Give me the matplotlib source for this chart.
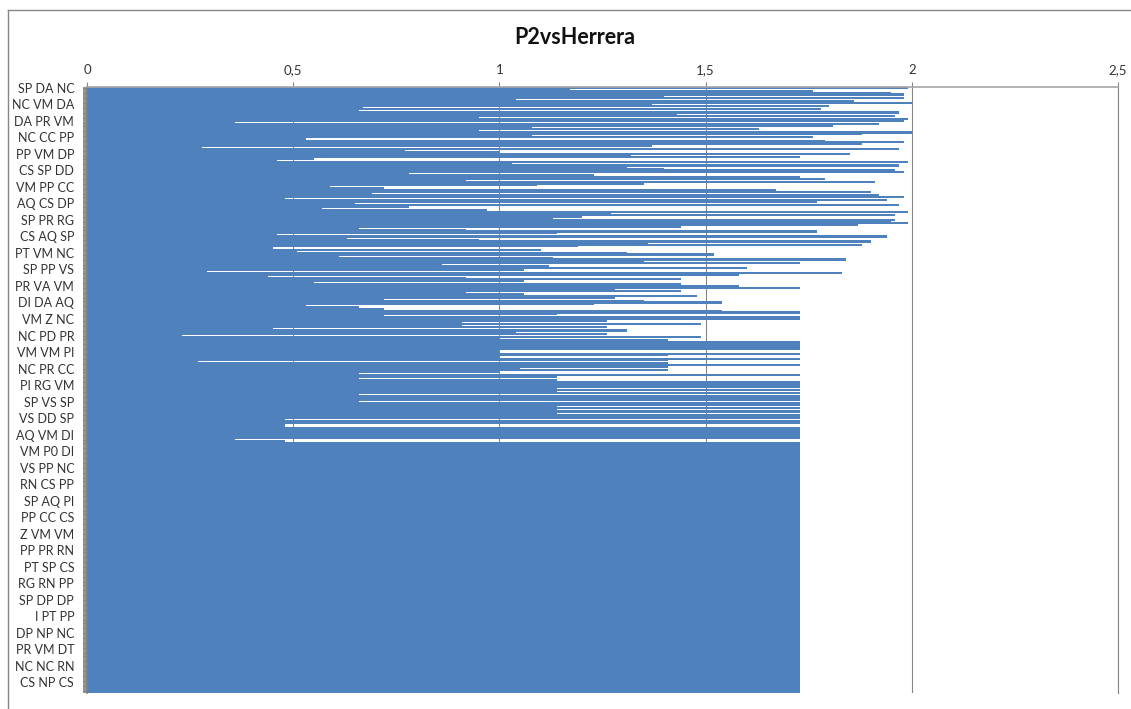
import matplotlib
matplotlib.use("Agg")
import matplotlib.pyplot as plt
from matplotlib.lines import Line2D
from matplotlib.ticker import FuncFormatter, FixedLocator
import numpy as np

plt.rcParams['font.family'] = ['Lato', 'DejaVu Sans']

# Every 10th category carries a visible label
category_labels = [
    "SP DA NC", "NC VM DA", "DA PR VM", "NC CC PP", "PP VM DP", "CS SP DD",
    "VM PP CC", "AQ CS DP", "SP PR RG", "CS AQ SP", "PT VM NC", "SP PP VS",
    "PR VA VM", "DI DA AQ", "VM Z NC", "NC PD PR", "VM VM PI", "NC PR CC",
    "PI RG VM", "SP VS SP", "VS DD SP", "AQ VM DI", "VM P0 DI", "VS PP NC",
    "RN CS PP", "SP AQ PI", "PP CC CS", "Z VM VM", "PP PR RN", "PT SP CS",
    "RG RN PP", "SP DP DP", "I PT PP", "DP NP NC", "PR VM DT", "NC NC RN",
    "CS NP CS",
]
label_step = 10

# Distances, top group (categories 0-99)
values_top = [
    1.99, 1.17, 1.76, 1.95, 1.98, 1.40, 1.98, 1.04, 1.86, 2.00,
    1.37, 1.80, 0.67, 1.78, 0.66, 1.97, 1.43, 1.96, 0.95, 1.99,
    1.98, 0.36, 1.92, 1.81, 1.08, 1.63, 0.95, 2.00, 1.88, 1.08,
    1.76, 0.53, 1.79, 1.98, 1.88, 1.37, 0.28, 1.97, 0.77, 1.00,
    1.85, 1.32, 1.73, 0.55, 0.46, 1.99, 1.03, 1.97, 1.31, 1.40,
    1.96, 1.98, 0.78, 1.23, 1.73, 1.79, 0.92, 1.91, 1.35, 1.09,
    0.59, 0.72, 1.67, 1.90, 0.69, 1.92, 1.98, 0.48, 1.94, 1.77,
    0.65, 1.97, 0.78, 0.57, 0.97, 1.99, 1.27, 1.96, 1.20, 1.13,
    1.96, 1.95, 1.99, 1.87, 1.44, 0.66, 0.92, 1.77, 1.14, 0.46,
    1.94, 0.63, 0.95, 1.90, 1.36, 1.88, 1.19, 0.45, 1.10, 0.51,
]

# Distances, middle group (categories 100-219)
values_middle = [
    1.31, 1.52, 0.61, 1.13, 1.84, 1.35, 1.73, 0.86, 1.12, 1.60,
    1.06, 0.29, 1.83, 1.58, 0.44, 0.92, 1.44, 1.06, 0.55, 1.44,
    1.58, 1.73, 1.28, 1.44, 0.92, 1.06, 1.48, 1.28, 0.72, 1.35,
    1.54, 1.23, 0.53, 0.66, 0.72, 1.54, 1.73, 1.14, 0.72, 1.73,
    1.73, 1.26, 0.91, 1.49, 0.91, 1.26, 0.45, 1.31, 1.04, 1.26,
    0.23, 1.49, 1.00, 1.41, 1.73, 1.73, 1.73, 1.73, 1.73, 1.00,
    1.00, 1.73, 1.41, 1.00, 1.73, 1.41, 0.27, 1.41, 1.73, 1.41,
    1.05, 1.41, 1.00, 0.66, 1.73, 1.14, 0.66, 1.14, 1.73, 1.73,
    1.73, 1.73, 1.14, 1.73, 1.14, 1.73, 0.66, 1.73, 1.73, 1.73,
    0.66, 1.73, 1.73, 1.14, 1.73, 1.14, 1.73, 1.14, 1.73, 1.73,
    1.73, 0.48, 1.73, 1.73, 0.48, 0.48, 1.73, 1.73, 1.73, 1.73,
    1.73, 1.73, 1.73, 0.36, 0.48, 1.73, 1.73, 1.73, 1.73, 1.73,
]

# Distances, bottom group: all categories share the same value
plateau_value = 1.73
plateau_count = 147
values_bottom = [plateau_value] * plateau_count

values = values_top + values_middle + values_bottom
n = len(values)
positions = np.arange(n)

x_ticks = [0, 0.5, 1, 1.5, 2, 2.5]

bar_color = "#4F81BD"
axis_gray = "#868686"
text_color = "#333333"

W, H = 1131, 709
fig = plt.figure(figsize=(W / 100, H / 100), dpi=100)
ax = fig.add_axes([87 / W, 1 - 693 / H, (1118 - 87) / W, (693 - 87) / H])

ax.barh(positions, values, height=1.35, color=bar_color, linewidth=0, zorder=2)

ax.set_xlim(0, 2.5)
ax.set_ylim(n - 0.5, -0.5)

# value axis on top, comma decimals
ax.xaxis.tick_top()
ax.set_xticks(x_ticks)
ax.xaxis.set_major_formatter(FuncFormatter(lambda v, p: f"{v:g}".replace(".", ",")))
ax.tick_params(axis="x", which="major", direction="out", length=3.6, width=0.8,
               color=axis_gray, labelcolor=text_color, labelsize=9.5, pad=4)
ax.grid(axis="x", color=axis_gray, linewidth=0.8, zorder=0)
ax.set_axisbelow(True)

# category axis: tick mark at every category, label at every 10th
ax.yaxis.set_major_locator(FixedLocator(positions[::label_step]))
ax.set_yticklabels(category_labels)
ax.yaxis.set_minor_locator(FixedLocator(positions))
ax.tick_params(axis="y", which="both", direction="out", length=3.2, width=1.2,
               color="#7F7F7F")
ax.tick_params(axis="y", which="major", labelcolor=text_color, labelsize=9, pad=6)

ax.spines["bottom"].set_visible(False)
for side in ("top", "left", "right"):
    ax.spines[side].set_color(axis_gray)
    ax.spines[side].set_linewidth(0.8)
ax.spines["left"].set_color("#7F7F7F")
ax.spines["left"].set_linewidth(1.2)
ax.spines["top"].set_color("#A6A6A6")
ax.spines["top"].set_linewidth(1.2)

fig.text(575 / W, 1 - 37 / H, "P2vsHerrera", ha="center", va="center",
         fontsize=15.5, fontweight="bold", color="#111111")

# chart frame
fig.add_artist(Line2D([7.5 / W, 7.5 / W], [0, 1 - 10 / H], transform=fig.transFigure,
                      color=axis_gray, linewidth=1.0))
fig.add_artist(Line2D([7.5 / W, 1], [1 - 10 / H, 1 - 10 / H], transform=fig.transFigure,
                      color=axis_gray, linewidth=1.0))

fig.savefig("out.png", dpi=100, facecolor="white")
